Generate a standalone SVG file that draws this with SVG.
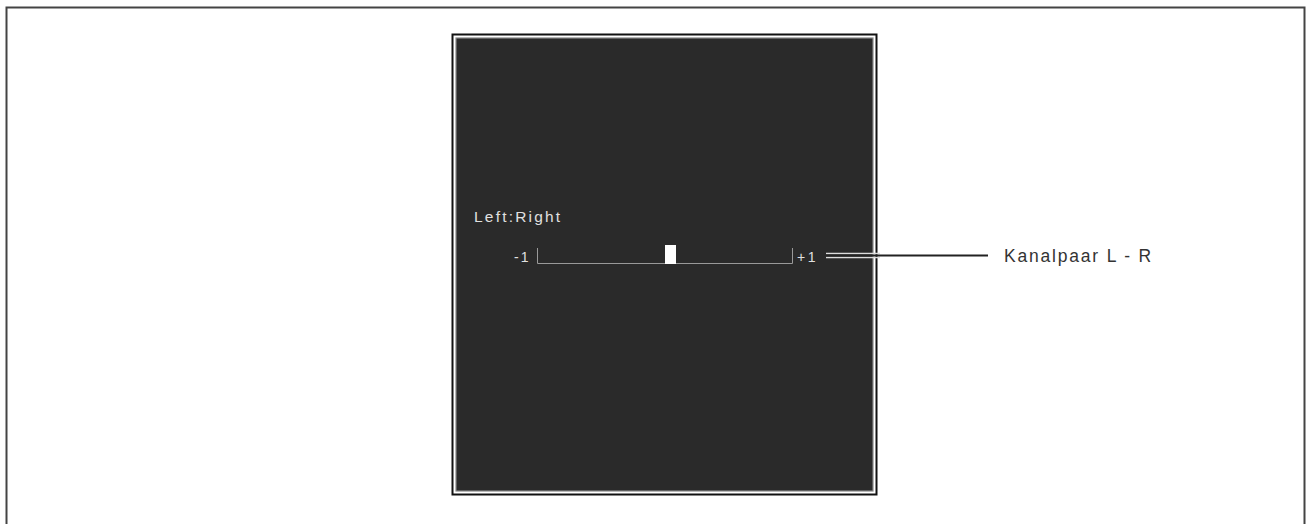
<svg xmlns="http://www.w3.org/2000/svg" width="1311" height="524" viewBox="0 0 1311 524">
<style>
.scr{font-family:"Liberation Sans",Arial,sans-serif;fill:#e0e0e0}
.lbl{font-family:"Liberation Sans",Arial,sans-serif;fill:#333;font-size:17.5px;letter-spacing:1.8px}
</style>
<rect x="0" y="0" width="1311" height="524" fill="#fff"/>
<g id="frame">
<path d="M6.5,530 V7.5 H1304.5 V530" fill="none" stroke="#444" stroke-width="2"/>
</g>
<g id="screen">
<rect x="452.5" y="34.5" width="424" height="460" fill="#fff" stroke="#111" stroke-width="2"/>
<rect x="456" y="38" width="417" height="453" fill="#2a2a2a" stroke="#888" stroke-width="1.2"/>
<text class="scr" x="474" y="222" font-size="15.5" letter-spacing="2.2">Left:Right</text>
<text class="scr" x="514" y="262" font-size="14" letter-spacing="2">-1</text>
<text class="scr" x="797" y="262" font-size="14" letter-spacing="2.5">+1</text>
<path d="M537.5,248 V263.5 H792.5 V248" fill="none" stroke="#999" stroke-width="1"/>
<rect x="665" y="245" width="11" height="19" fill="#fff"/>
</g>
<g id="connectors">
<line x1="826" y1="253.5" x2="880" y2="253.5" stroke="#ddd" stroke-width="1.5"/>
<line x1="826" y1="257.5" x2="880" y2="257.5" stroke="#ddd" stroke-width="1.5"/>
<line x1="826" y1="255.5" x2="988" y2="255.5" stroke="#222" stroke-width="2"/>
</g>
<g id="label">
<text class="lbl" x="1004" y="262">Kanalpaar L - R</text>
</g>
</svg>
